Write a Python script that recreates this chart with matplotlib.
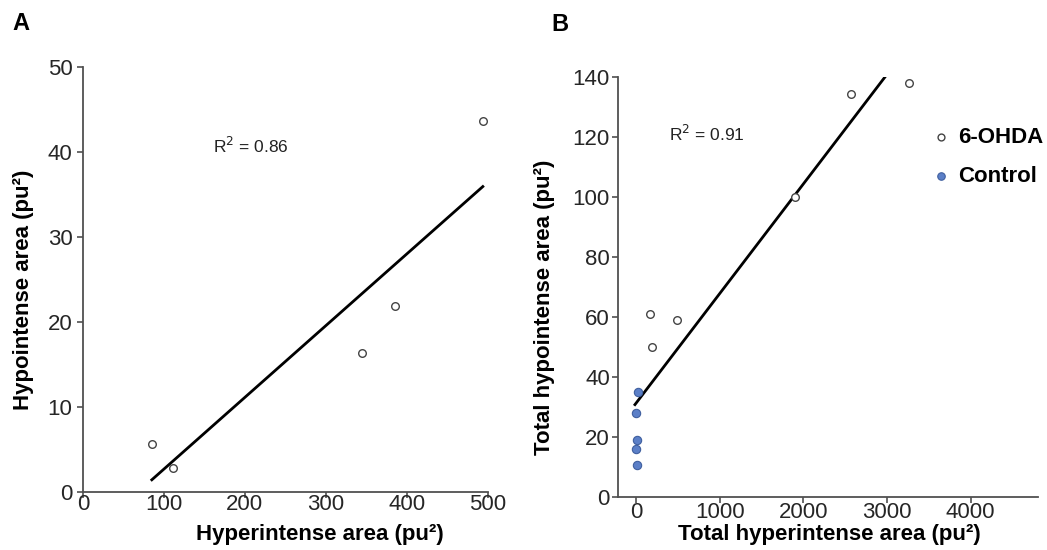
import matplotlib
matplotlib.use("Agg")
import matplotlib.pyplot as plt

plt.rcParams['font.family'] = ['Liberation Sans', 'DejaVu Sans']

# Panel A data
a_x = [85.5, 111.5, 345.3, 385.9, 494.2]
a_y = [5.6, 2.8, 16.3, 21.9, 43.6]
a_fit_x = [85, 494]
a_fit_y = [1.4, 35.9]
a_xticks = [0, 100, 200, 300, 400, 500]
a_yticks = [0, 10, 20, 30, 40, 50]

# Panel B data
b_ohda_x = [168, 197, 490, 1906, 2574, 3258]
b_ohda_y = [60.9, 50.0, 59.0, 99.8, 134.2, 138.0]
b_ctrl_x = [29, 0, 17, 0, 17]
b_ctrl_y = [35.0, 27.9, 19.0, 15.8, 10.7]
b_fit_x = [-12, 2989]
b_fit_y = [30.7, 140.4]
b_xticks = [0, 1000, 2000, 3000, 4000]
b_yticks = [0, 20, 40, 60, 80, 100, 120, 140]

fig = plt.figure(figsize=(10.47, 5.5), dpi=100)
axA = fig.add_axes([0.0793, 0.1060, 0.3865, 0.7727])
axB = fig.add_axes([0.5905, 0.0969, 0.4009, 0.7636])

spine_c = '#505050'
tick_lab_c = '#262626'
for ax in (axA, axB):
    for s in ('top', 'right'):
        ax.spines[s].set_visible(False)
    for s in ('left', 'bottom'):
        ax.spines[s].set_color(spine_c)
        ax.spines[s].set_linewidth(1.3)
    ax.tick_params(axis='both', direction='out', length=4.5, width=1.2,
                   color=spine_c, labelcolor=tick_lab_c, labelsize=16)

axA.tick_params(axis='x', pad=-3)
axA.tick_params(axis='y', pad=3)
axB.tick_params(axis='x', pad=-0.5)
axB.tick_params(axis='y', pad=1.5)

# Panel A
axA.plot(a_fit_x, a_fit_y, color='black', lw=2)
axA.scatter(a_x, a_y, s=30, facecolors='white', edgecolors='#444444', linewidths=1, zorder=3)
axA.set_xlim(0, 500)
axA.set_ylim(0, 50)
axA.set_xticks(a_xticks)
axA.set_yticks(a_yticks)
axA.set_xlabel('Hyperintense area (pu²)', fontsize=16, fontweight='bold')
axA.set_ylabel('Hypointense area (pu²)', fontsize=16, fontweight='bold')
axA.xaxis.set_label_coords(0.5856, -0.076)
axA.yaxis.set_label_coords(-0.122, 0.476)
axA.text(161, 40.7, 'R$^2$ = 0.86', fontsize=12.5, color='#222222', va='center', ha='left')

# Panel B
axB.plot(b_fit_x, b_fit_y, color='black', lw=2)
axB.scatter(b_ohda_x, b_ohda_y, s=30, facecolors='white', edgecolors='#444444',
            linewidths=1, zorder=3, label='6-OHDA')
axB.scatter(b_ctrl_x, b_ctrl_y, s=36, facecolors='#5b7fc7', edgecolors='#3f5f9f',
            linewidths=0.8, zorder=3, label='Control')
axB.set_xlim(-211.5, 4804)
axB.set_ylim(0, 140)
axB.set_xticks(b_xticks)
axB.set_yticks(b_yticks)
axB.set_xlabel('Total hyperintense area (pu²)', fontsize=16, fontweight='bold')
axB.set_ylabel('Total hypointense area (pu²)', fontsize=16, fontweight='bold')
axB.xaxis.set_label_coords(0.502, -0.065)
axB.yaxis.set_label_coords(-0.151, 0.452)
axB.text(394, 121, 'R$^2$ = 0.91', fontsize=12.5, color='#222222', va='center', ha='left')
leg = axB.legend(loc='upper left', bbox_to_anchor=(0.7415, 0.880), frameon=False,
                 prop={'weight': 'bold', 'size': 16}, handletextpad=0.29,
                 labelspacing=0.8, handlelength=1.0, borderpad=0, borderaxespad=0,
                 markerscale=0.9)

fig.text(0.0115, 0.957, 'A', fontsize=17, fontweight='bold', va='center', ha='left')
fig.text(0.527, 0.956, 'B', fontsize=17, fontweight='bold', va='center', ha='left')

fig.savefig('out.png', dpi=100, facecolor='white')
